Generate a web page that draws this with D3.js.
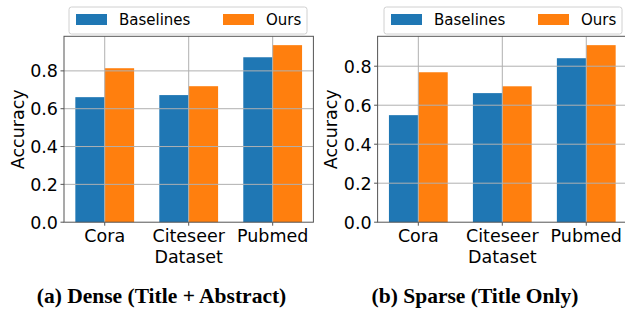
<!DOCTYPE html>
<meta charset="utf-8">
<style>
  body { margin: 0; background: #fff; }
  text { font-family: "DejaVu Sans", sans-serif; fill: #000; }
  .caption { font-family: "Liberation Serif", serif; font-weight: bold; }
</style>
<body>
<script src="https://d3js.org/d3.v7.min.js"></script>
<script>

var width = 625
var height = 314

// data
var categories = ["Cora", "Citeseer", "Pubmed"]
var seriesNames = ["Baselines", "Ours"]
var colors = ["#1f77b4", "#ff7f0e"]
var denseBaselines = [0.661, 0.672, 0.872]
var denseOurs = [0.814, 0.719, 0.936]
var sparseBaselines = [0.549, 0.662, 0.841]
var sparseOurs = [0.769, 0.697, 0.908]
var yTicks = [0, 0.2, 0.4, 0.6, 0.8]

var svg = d3.select("body")
  .append("svg")
  .attr("width", width)
  .attr("height", height);

var plotTop = 36.3, plotBottom = 222.2, barW = 0.35;

function panel(opts) {
  var g = svg.append("g");
  var ymax = d3.max(opts.ours.concat(opts.base)) * 1.05;
  var x = d3.scaleLinear().domain([-0.485, 2.485]).range([opts.x0, opts.x1]);
  var y = d3.scaleLinear().domain([0, ymax]).range([plotBottom, plotTop]);

  // bars
  [opts.base, opts.ours].forEach(function (vals, s) {
    g.selectAll(null)
      .data(vals)
      .enter()
      .append("rect")
        .attr("x", function (d, i) { return x(i - barW + s * barW); })
        .attr("width", x(barW) - x(0))
        .attr("y", function (d) { return y(d); })
        .attr("height", function (d) { return y(0) - y(d); })
        .attr("fill", colors[s]);
  });

  // grid on top of bars
  g.selectAll(null).data(yTicks.slice(1)).enter().append("line")
    .attr("x1", opts.x0).attr("x2", opts.x1)
    .attr("y1", function (d) { return y(d); }).attr("y2", function (d) { return y(d); })
    .attr("stroke", "#b0b0b0").attr("stroke-width", 1);
  g.selectAll(null).data(categories).enter().append("line")
    .attr("x1", function (d, i) { return x(i); }).attr("x2", function (d, i) { return x(i); })
    .attr("y1", plotTop).attr("y2", plotBottom)
    .attr("stroke", "#b0b0b0").attr("stroke-width", 1);

  // spines
  g.append("rect")
    .attr("x", opts.x0).attr("y", plotTop)
    .attr("width", opts.x1 - opts.x0).attr("height", plotBottom - plotTop)
    .attr("fill", "none").attr("stroke", "#555").attr("stroke-width", 1);

  // y ticks
  g.selectAll(null).data(yTicks).enter().append("line")
    .attr("x1", opts.x0 - 3.5).attr("x2", opts.x0)
    .attr("y1", function (d) { return y(d); }).attr("y2", function (d) { return y(d); })
    .attr("stroke", "#555");
  g.selectAll(null).data(yTicks).enter().append("text")
    .attr("x", opts.x0 - 6)
    .attr("y", function (d) { return y(d); })
    .attr("dy", "0.36em")
    .attr("text-anchor", "end")
    .style("font-size", "17.5px")
    .text(function (d) { return d.toFixed(1); });

  // x ticks
  g.selectAll(null).data(categories).enter().append("line")
    .attr("x1", function (d, i) { return x(i); }).attr("x2", function (d, i) { return x(i); })
    .attr("y1", plotBottom).attr("y2", plotBottom + 3.5)
    .attr("stroke", "#555");
  g.selectAll(null).data(categories).enter().append("text")
    .attr("x", function (d, i) { return x(i); })
    .attr("y", 242)
    .attr("text-anchor", "middle")
    .style("font-size", "17.5px")
    .text(function (d) { return d; });

  // axis titles
  g.append("text")
    .attr("x", x(1)).attr("y", 263)
    .attr("text-anchor", "middle")
    .style("font-size", "17.5px")
    .text("Dataset");
  g.append("text")
    .attr("transform", "translate(" + opts.ylabX + "," + ((plotTop + plotBottom) / 2) + ") rotate(-90)")
    .attr("text-anchor", "middle")
    .attr("dy", "0.36em")
    .style("font-size", "17.5px")
    .text("Accuracy");

  // legend
  var lg = g.append("g").attr("transform", "translate(" + opts.legX + ",7)");
  lg.append("rect")
    .attr("width", 238).attr("height", 27).attr("rx", 2.5)
    .attr("fill", "#fff").attr("stroke", "#d0d0d0");
  var offs = [[7, 50], [154, 197]];
  seriesNames.forEach(function (name, s) {
    lg.append("rect")
      .attr("x", offs[s][0]).attr("y", 7)
      .attr("width", 31).attr("height", 11)
      .attr("fill", colors[s]);
    lg.append("text")
      .attr("x", offs[s][1]).attr("y", 12.5)
      .attr("dy", "0.36em")
      .style("font-size", "15px")
      .text(name);
  });

  // caption
  svg.append("text")
    .attr("class", "caption")
    .attr("x", opts.capX).attr("y", 303)
    .attr("text-anchor", "middle")
    .style("font-size", "21.5px")
    .text(opts.caption);
}

panel({ x0: 64, x1: 313.4, base: denseBaselines, ours: denseOurs,
        ylabX: 18, legX: 69, capX: 161.5, caption: "(a) Dense (Title + Abstract)" });
panel({ x0: 377.6, x1: 627, base: sparseBaselines, ours: sparseOurs,
        ylabX: 331, legX: 384, capX: 475, caption: "(b) Sparse (Title Only)" });

</script>
</body>
